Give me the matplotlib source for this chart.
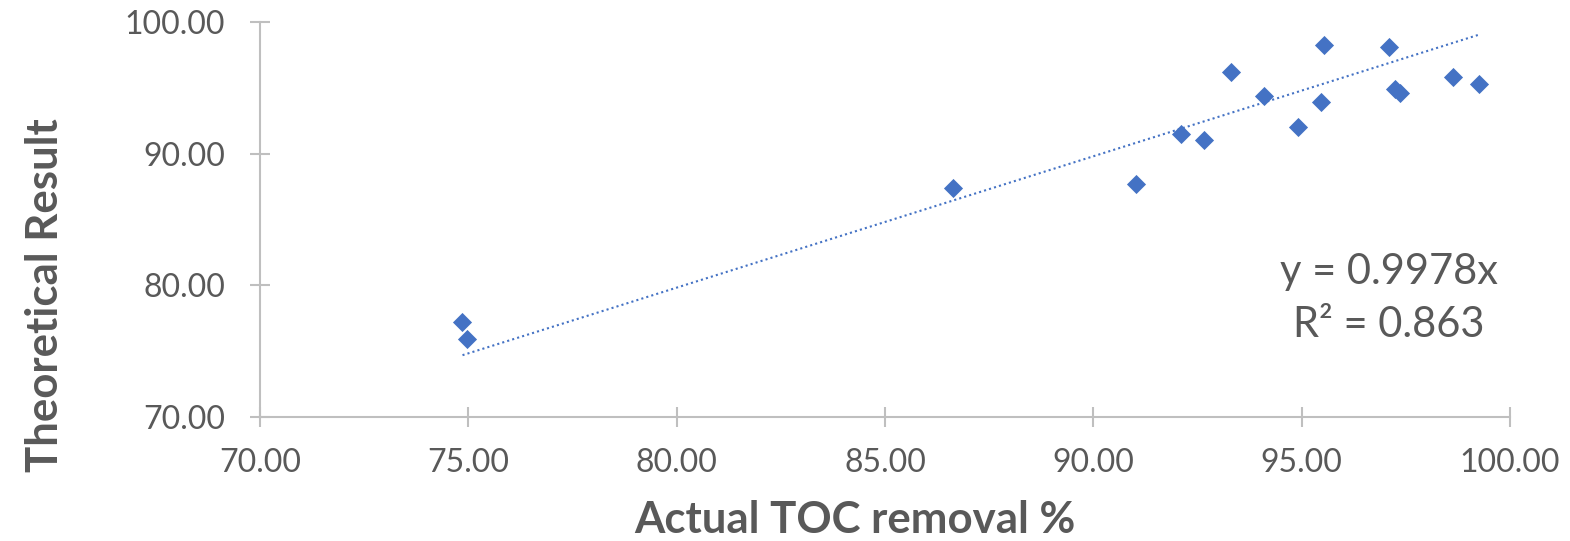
import numpy as np
import matplotlib.pyplot as plt

# actual vs theoretical TOC removal (%)
actual = [74.86, 74.97, 86.64, 91.02, 92.10, 92.65, 93.30, 94.09,
          94.91, 95.46, 95.54, 97.10, 97.24, 97.36, 98.64, 99.26]
theoretical = [77.24, 75.92, 87.39, 87.67, 91.47, 91.01, 96.18, 94.38,
               92.03, 93.95, 98.25, 98.12, 94.91, 94.63, 95.85, 95.27]
slope = 0.9978
r2 = 0.863
xticks = [70, 75, 80, 85, 90, 95, 100]
yticks = [70, 80, 90, 100]

plt.rcParams['font.family'] = ['Lato', 'DejaVu Sans']
grey = "#595959"
axis_col = "#BFBFBF"
blue = "#4472C4"

fig = plt.figure(figsize=(15.70, 5.41), dpi=100)
ax = fig.add_axes([260/1570, 124/541, 1250/1570, 395/541])

ax.scatter(actual, theoretical, marker="D", s=95, c=blue, zorder=3, linewidths=0)

# trendline forced through origin
xs = np.array([min(actual), max(actual)])
ax.plot(xs, slope*xs, ls=(0, (1, 1.5)), lw=1.5, c=blue, zorder=2)

ax.text(0.903, 0.30, f"y = {slope}x\nR² = {r2}", transform=ax.transAxes,
        ha="center", va="center", fontsize=30, color=grey, linespacing=1.5)

ax.set_xlim(70, 100)
ax.set_ylim(70, 100)
ax.set_xticks(xticks)
ax.set_yticks(yticks)
ax.set_xticklabels([f"{v:.2f}" for v in xticks])
ax.set_yticklabels([f"{v:.2f}" for v in yticks])

for s in ["top", "right"]:
    ax.spines[s].set_visible(False)
for s in ["left", "bottom"]:
    ax.spines[s].set_color(axis_col)
    ax.spines[s].set_linewidth(1.5)
ax.tick_params(direction="inout", length=14, width=1.5, color=axis_col,
               labelcolor=grey, labelsize=23)
ax.tick_params(axis="x", pad=15)
ax.tick_params(axis="y", pad=18)

ax.set_xlabel("Actual TOC removal %", fontsize=31.5, fontweight="bold",
              color=grey)
ax.set_ylabel("Theoretical Result", fontsize=31.5, fontweight="bold",
              color=grey)
ax.xaxis.set_label_coords((855 - 260) / 1250, -(520 - 417) / 395)
ax.yaxis.set_label_coords(-(260 - 45) / 1250, (417 - 295) / 395)
ax.xaxis.label.set_va("center")
ax.yaxis.label.set_va("center")

fig.savefig("out.png", dpi=100)
